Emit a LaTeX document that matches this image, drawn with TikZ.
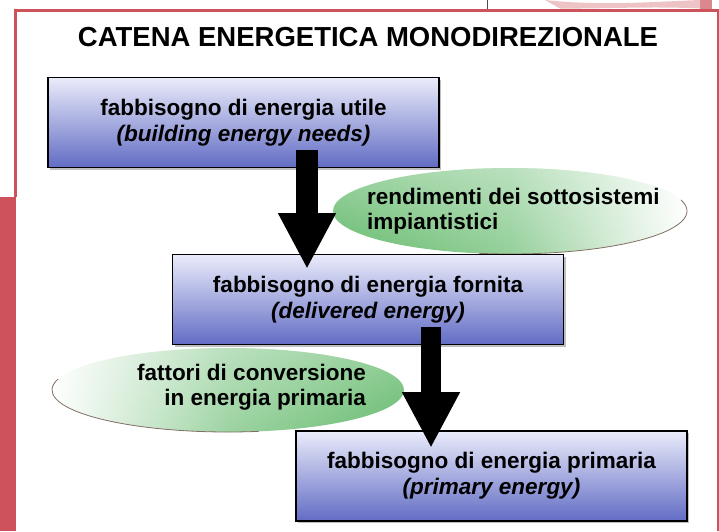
\documentclass[tikz,border=0pt]{standalone}
\usepackage{fontspec}
\setmainfont{Liberation Sans}
\usetikzlibrary{arrows.meta,shapes.geometric,shadows,fadings}
\definecolor{framered}{RGB}{205,82,92}
\definecolor{boxtop}{RGB}{234,236,250}
\definecolor{boxbot}{RGB}{98,108,196}
\definecolor{grn}{RGB}{104,188,112}
\definecolor{rimc}{RGB}{130,110,100}
\tikzset{
  energybox/.style={draw=black, line width=1.4pt, top color=boxtop, bottom color=boxbot,
    minimum width=391pt, minimum height=90pt, align=center, inner sep=0pt,
    font=\fontsize{22.5}{26}\selectfont\bfseries,
    drop shadow={shadow xshift=2pt, shadow yshift=-2pt, opacity=0.25, fill=black}},
  ovaltext/.style={inner sep=0pt, font=\fontsize{22.5}{25}\selectfont\bfseries},
  bigarrow/.style={draw=black, -{Triangle[length=56pt 0 0, width=54pt 0]}},
  rim/.style={draw=rimc, line width=0.8pt},
  titletext/.style={font=\fontsize{27.5}{30}\selectfont\bfseries, inner sep=0pt}
}
\begin{document}
\begin{tikzpicture}[x=1pt, y=-1pt]
\useasboundingbox (0,0) rectangle (719,531);
\fill[white] (0,0) rectangle (719,531);
% frame
\fill[framered] (0,197) rectangle (16,531);
\draw[framered, line width=3pt] (15.5,197) -- (15.5,10) -- (719,10);
\draw[framered, line width=2pt] (718,10) -- (718,531);
% top-right decoration
\draw[black!70, line width=0.8pt] (487,0) -- (487,9);
\fill[framered!35] (545,0) .. controls (600,6) and (650,2) .. (700,0) -- (700,8.5) .. controls (650,6) and (600,9) .. (560,8.5) -- cycle;
\fill[framered!70] (700,0) rectangle (712,8.5);
% title
\node[titletext] (title) at (368,37) {CATENA ENERGETICA MONODIREZIONALE};
% ellipses
\shade[left color=grn, right color=white, middle color=grn!70] (510,211) ellipse (177 and 43);
\fill[white, path fading=south, opacity=0.35] (510,211) ellipse (177 and 43);
\draw[rim] (510,211) ++(-15:177 and 43) arc[start angle=-15, end angle=100, x radius=177, y radius=43];
\shade[left color=white, right color=grn, middle color=grn!65] (228,390) ellipse (176 and 42);
\fill[white, path fading=south, opacity=0.3] (228,390) ellipse (176 and 42);
\draw[rim] (228,390) ++(80:176 and 42) arc[start angle=80, end angle=195, x radius=176, y radius=42];
\node[ovaltext, align=left, anchor=west] (o1) at (367,211) {rendimenti dei sottosistemi\\impiantistici};
\node[ovaltext, align=right, anchor=east] (o2) at (366,387) {fattori di conversione\\in energia primaria};
% boxes
\node[energybox] (b1) at (243.5,122.5) {fabbisogno di energia utile\\\textit{(building energy needs)}};
\node[energybox] (b2) at (368,299.5) {fabbisogno di energia fornita\\\textit{(delivered energy)}};
\node[energybox] (b3) at (491.5,476) {fabbisogno di energia primaria\\\textit{(primary energy)}};
% arrows
\coordinate (a1s) at (307,150);
\coordinate (a1e) at (307,269);
\coordinate (a2s) at (431,327);
\coordinate (a2e) at (431,448);
\draw[bigarrow, line width=22pt] (a1s) -- (a1e);
\draw[bigarrow, line width=20pt] (a2s) -- (a2e);
\end{tikzpicture}
\end{document}
